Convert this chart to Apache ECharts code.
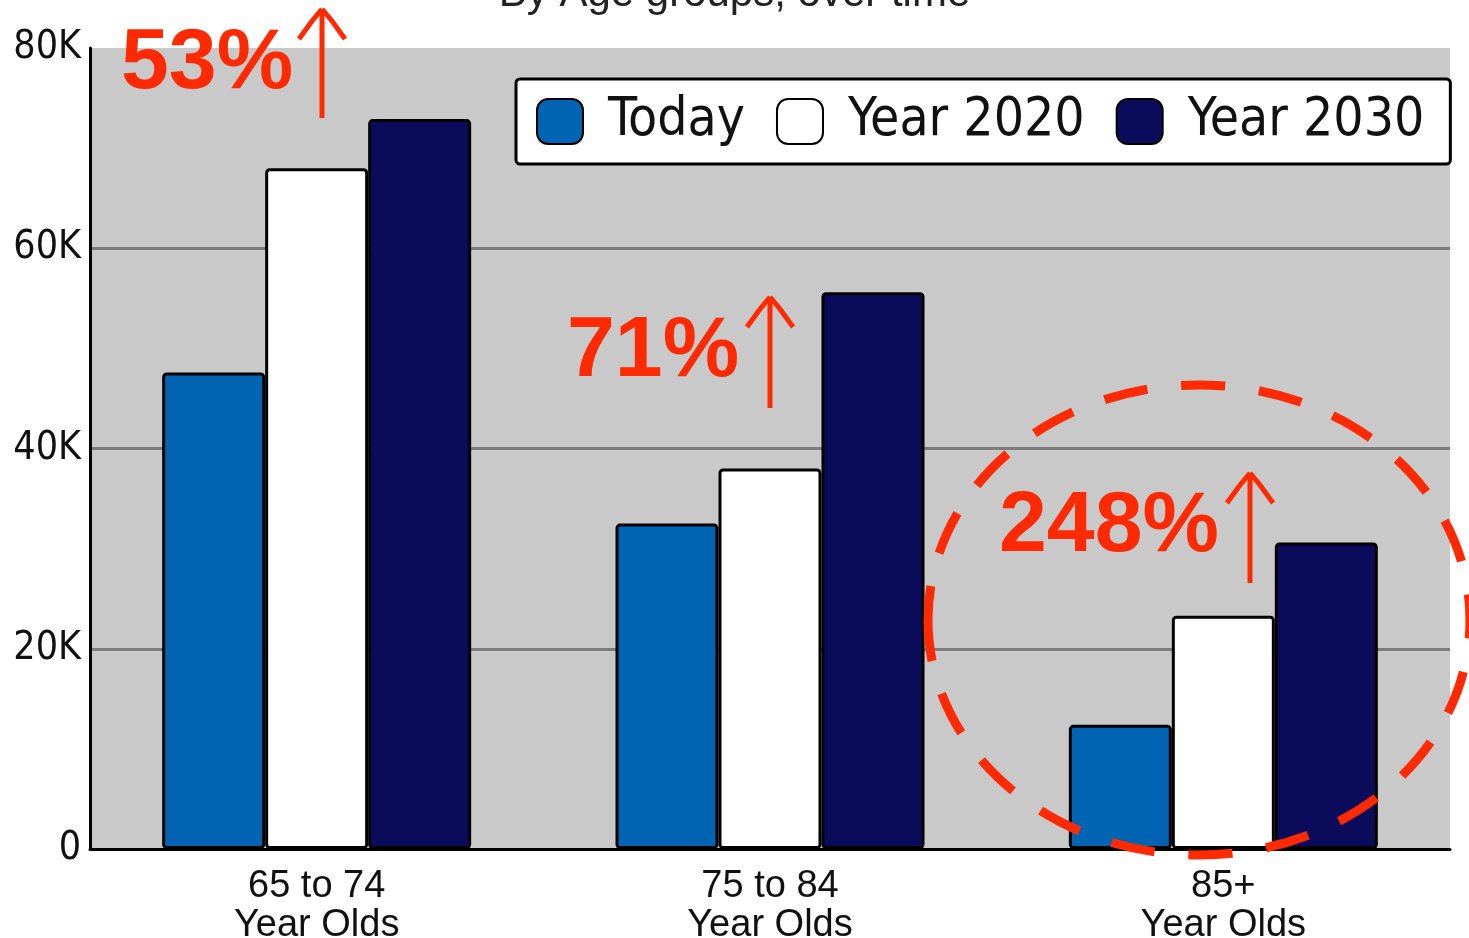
<!DOCTYPE html>
<html>
<head>
<meta charset="utf-8">
<title>By Age groups, over time</title>
<script src="https://cdn.jsdelivr.net/npm/echarts@6/dist/echarts.min.js"></script>
<style>
  html, body { margin: 0; padding: 0; background: #ffffff; }
  #chart { width: 1469px; height: 938px; }
</style>
</head>
<body>
<div id="chart"></div>
<script>
// Population by age group
const categories = ['65 to 74\nYear Olds', '75 to 84\nYear Olds', '85+\nYear Olds'];
const seriesNames = ['Today', 'Year 2020', 'Year 2030'];
const todayValues = [47600, 32500, 12400];
const year2020Values = [68000, 38000, 23300];
const year2030Values = [72900, 55600, 30600];
const yTickValues = [0, 20000, 40000, 60000, 80000];
const yTickLabels = ['0', '20K', '40K', '60K', '80K'];
const growthLabels = ['53%', '71%', '248%'];
const titleText = 'By Age groups, over time';

const RED = '#ff2a00';
const NARROW = "'Liberation Sans Narrow', 'Arial Narrow', 'DejaVu Sans Condensed', 'Liberation Sans', sans-serif";
const SANS = "'Liberation Sans', Arial, sans-serif";

const barColors = ['#0064b2', '#ffffff', '#0b0b5c'];
const seriesValues = [todayValues, year2020Values, year2030Values];

const chart = echarts.init(document.getElementById('chart'), null, { renderer: 'canvas' });

// Up-arrow glyph: shaft plus two barbs
function arrow(x, tipY, bottomY) {
  const style = { stroke: RED, lineWidth: 5, fill: null, lineCap: 'butt' };
  return [
    { type: 'line', shape: { x1: x, y1: tipY + 2, x2: x, y2: bottomY }, style: style, z: 100 },
    { type: 'polyline', shape: { points: [[x - 23, tipY + 30], [x - 10, tipY + 12], [x, tipY]] }, style: style, z: 100 },
    { type: 'polyline', shape: { points: [[x + 23, tipY + 30], [x + 10, tipY + 12], [x, tipY]] }, style: style, z: 100 }
  ];
}

function growthText(text, x, y) {
  return {
    type: 'text', x: x, y: y, z: 100,
    style: {
      text: text, fill: RED, font: "bold 86px 'Liberation Sans', Arial, sans-serif",
      textAlign: 'left', textVerticalAlign: 'middle'
    }
  };
}

const graphics = []
  .concat([growthText(growthLabels[0], 121, 64)])
  .concat(arrow(322, 9, 118))
  .concat([growthText(growthLabels[1], 567, 352)])
  .concat(arrow(770, 297, 408))
  .concat([growthText(growthLabels[2], 999, 527)])
  .concat(arrow(1250, 473, 583))
  .concat([{
    type: 'ellipse', z: 100,
    shape: { cx: 1199, cy: 620, rx: 271, ry: 235 },
    style: { stroke: RED, lineWidth: 9, fill: null, lineDash: [44, 34], lineDashOffset: 10 }
  }]);

const option = {
  animation: false,
  backgroundColor: '#ffffff',
  title: {
    text: titleText,
    left: 'center',
    top: -32,
    textStyle: { fontFamily: SANS, fontSize: 42, fontWeight: 'normal', color: '#222222' }
  },
  legend: {
    data: seriesNames,
    left: 516,
    top: 79,
    width: 930,
    padding: [16, 26, 16, 20],
    itemWidth: 46,
    itemHeight: 45,
    itemGap: 31,
    icon: 'roundRect',
    backgroundColor: '#ffffff',
    borderColor: '#000000',
    borderWidth: 3,
    borderRadius: 4,
    textStyle: { fontFamily: NARROW, fontSize: 53, color: '#111111', lineHeight: 45, padding: [0, 0, 0, 20] }
  },
  grid: {
    left: 90, right: 19, top: 48, bottom: 89,
    outerBoundsMode: 'none',
    containLabel: false,
    show: true, backgroundColor: '#c9c9c9', borderWidth: 0
  },
  xAxis: {
    type: 'category',
    data: categories,
    axisLine: { lineStyle: { color: '#000000', width: 3 } },
    axisTick: { show: false },
    axisLabel: {
      fontFamily: SANS, fontSize: 38, color: '#111111', lineHeight: 39, margin: 18
    }
  },
  yAxis: {
    type: 'value',
    min: 0, max: 80000, interval: 20000,
    axisLine: { show: true, lineStyle: { color: '#000000', width: 3 } },
    axisTick: { show: false },
    axisLabel: {
      fontFamily: NARROW, fontSize: 39, color: '#111111', margin: 9,
      formatter: function (v) { return yTickLabels[yTickValues.indexOf(v)]; }
    },
    splitLine: {
      lineStyle: { color: ['#7c7c7c', '#7c7c7c', '#7c7c7c', '#7c7c7c', 'rgba(0,0,0,0)'], width: 3 }
    }
  },
  series: seriesNames.map(function (name, i) {
    return {
      name: name,
      type: 'bar',
      data: seriesValues[i],
      barWidth: 103,
      barGap: '0%',
      itemStyle: {
        color: barColors[i], borderColor: '#000000', borderWidth: 3, borderRadius: 3
      }
    };
  }),
  graphic: graphics
};

chart.setOption(option);
</script>
</body>
</html>
